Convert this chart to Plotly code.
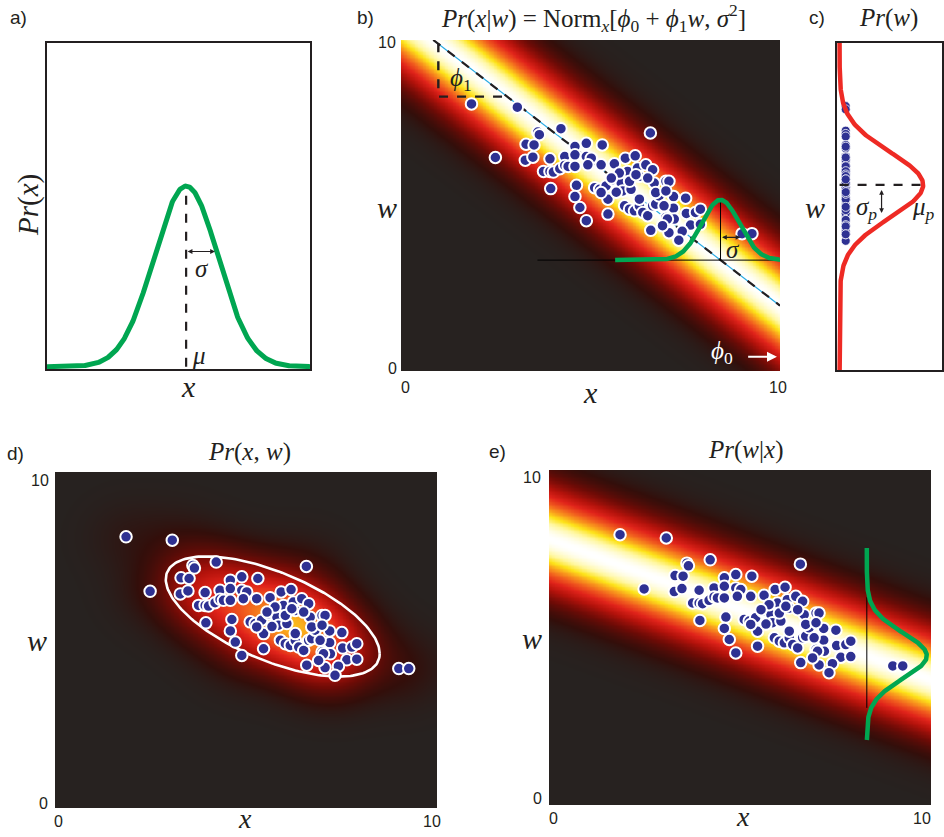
import numpy as np
import plotly.graph_objects as go

W, H = 944, 837

# ---------------------------------------------------------------- data
# observed training pairs (x, w)
data_x = [1.86, 3.07, 2.49, 4.22, 6.58,
          3.61, 3.65, 3.30, 3.51, 3.28, 3.48, 3.93,
          4.32, 4.59, 4.89, 5.31, 4.59,
          3.76, 3.93, 4.02, 4.19, 4.32, 4.41, 4.59,
          3.95, 4.89, 5.02, 4.93, 5.28, 5.63, 5.92, 6.18,
          5.98, 6.24, 6.46, 6.64, 6.29, 6.68, 6.99,
          4.63, 4.59, 4.72, 4.89,
          5.11, 5.24, 5.41, 5.59, 5.81, 5.85, 5.46, 5.46,
          5.90, 6.03, 6.16, 6.29, 6.38, 6.51, 6.64, 6.72, 6.81, 6.72,
          6.59, 6.99, 6.29, 6.07, 6.03, 5.76, 6.20, 6.51,
          7.07, 7.19, 7.51, 7.19, 7.53, 7.77, 7.90, 7.21, 7.03,
          7.64, 7.90, 7.07, 7.42, 7.33, 6.90,
          5.55, 5.68, 5.28, 6.94, 6.99,
          9.00, 9.26]
data_w = [8.07, 7.97, 6.45, 7.32, 7.19,
          7.22, 7.14, 6.85, 6.83, 6.37, 6.46, 6.41,
          6.48, 6.78, 6.88, 6.83, 6.53,
          6.03, 6.03, 6.01, 6.11, 6.21, 6.18, 6.18,
          5.51, 6.48, 6.43, 6.23, 6.23, 6.26, 6.43, 6.50,
          6.03, 6.13, 6.23, 6.08, 5.88, 5.68, 5.73,
          5.61, 5.27, 4.94, 4.54,
          5.54, 5.49, 5.59, 5.78, 5.68, 5.44, 5.19, 4.74,
          4.99, 4.89, 4.84, 4.99, 4.79, 4.69, 4.99, 5.04, 5.29, 5.39,
          4.25, 4.64, 5.19, 5.49, 5.73, 5.98, 5.93, 5.83,
          5.73, 5.27, 5.22, 4.92, 4.76, 4.79, 4.89, 4.59, 4.59,
          4.41, 4.43, 4.18, 4.22, 3.95, 4.39,
          5.83, 5.40, 5.39, 4.99, 5.44,
          4.15, 4.15]

# a) univariate normal Pr(x)
mu_a, sigma_a, peak_a = 5.29, 1.22, 0.558
# b) Pr(x|w) = Norm_x[phi0 + phi1 w, sigma^2]
phi0, phi1 = 12.25, -1.14
band_b = 1.3            # spread of the colour band
w_slice, sigma_b, amp_b = 3.35, 0.5, 1.82
# c) prior Pr(w)
mu_p, sigma_p, amp_c = 5.66, 1.0, 0.816
# d) joint Pr(x, w): kernel width and fitted contour
kde_bw = 0.72
ell_center = [5.7, 5.7]
ell_cov = [[7.84, -3.1], [-3.1, 3.2]]
# e) posterior Pr(w|x)
e_intercept, e_slope = 7.95, -0.42
band_e = 1.0
x_slice, sigma_e, amp_e = 8.32, 0.68, 1.57
x_slice_span = [1.94, 7.67]

tick_text = ["0", "10"]

# ---------------------------------------------------------------- styles
INK = "#231f20"
GREEN = "#00a651"
RED = "#ee2a24"
BLUE = "#2e3192"
SERIF = "Liberation Serif"
SANS = "Liberation Sans"

hot = [[0.0, "#272220"], [0.06, "#330e0a"], [0.18, "#6e0b06"], [0.32, "#b3120b"],
       [0.45, "#e0231a"], [0.58, "#f05a1e"], [0.70, "#f99d1c"], [0.80, "#fde31a"],
       [0.90, "#fff7a0"], [1.0, "#ffffff"]]


def dom_x(a, b):
    return [a / W, b / W]


def dom_y(top, bot):
    return [1 - bot / H, 1 - top / H]


def px(xp):
    return xp / W


def py(yp):
    return 1 - yp / H


fig = go.Figure()

grid = np.linspace(0, 10, 241)
GX, GW = np.meshgrid(grid, grid)

dot_style = dict(mode="markers", hoverinfo="skip",
                 marker=dict(size=11.5, color=BLUE, line=dict(color="white", width=2)))

# ---------------------------------------------------------------- panel a
xa = np.linspace(0, 10, 400)
fig.add_trace(go.Scatter(x=[mu_a, mu_a], y=[0, peak_a], mode="lines",
                         line=dict(color=INK, width=2.2, dash="dash"), xaxis="x", yaxis="y"))
fig.add_trace(go.Scatter(x=xa, y=peak_a * np.exp(-(xa - mu_a) ** 2 / (2 * sigma_a ** 2)),
                         mode="lines", line=dict(color=GREEN, width=5), xaxis="x", yaxis="y"))

# ---------------------------------------------------------------- panel b
zb = np.exp(-(GX - (phi0 + phi1 * GW)) ** 2 / (2 * band_b ** 2))
fig.add_trace(go.Heatmap(x=grid, y=grid, z=zb, colorscale=hot, showscale=False,
                         zmin=0, zmax=1, zsmooth="best", hoverinfo="skip", xaxis="x2", yaxis="y2"))
wl = np.array([10.0, (phi0 - 10.0) / -phi1])
fig.add_trace(go.Scatter(x=phi0 + phi1 * wl, y=wl, mode="lines",
                         line=dict(color="#29abe2", width=1.2), xaxis="x2", yaxis="y2"))
fig.add_trace(go.Scatter(x=phi0 + phi1 * wl, y=wl, mode="lines",
                         line=dict(color=INK, width=2.2, dash="dash"), xaxis="x2", yaxis="y2"))
fig.add_trace(go.Scatter(x=[0.985, 0.985, 2.70], y=[9.9, 8.29, 8.29], mode="lines",
                         line=dict(color=INK, width=2.4, dash="dash"), xaxis="x2", yaxis="y2"))
fig.add_trace(go.Scatter(x=data_x, y=data_w, xaxis="x2", yaxis="y2", **dot_style))
xc_b = phi0 + phi1 * w_slice
fig.add_trace(go.Scatter(x=[3.6, 10, None, xc_b, xc_b], y=[w_slice, w_slice, None, w_slice, w_slice + amp_b],
                         mode="lines", line=dict(color="black", width=1), xaxis="x2", yaxis="y2"))
xg = np.linspace(5.65, 10, 300)
fig.add_trace(go.Scatter(x=xg, y=w_slice + amp_b * np.exp(-(xg - xc_b) ** 2 / (2 * sigma_b ** 2)),
                         mode="lines", line=dict(color=GREEN, width=4.5), xaxis="x2", yaxis="y2"))

# ---------------------------------------------------------------- panel c
fig.add_trace(go.Scatter(x=[0.06] * len(data_w), y=data_w, mode="markers", hoverinfo="skip",
                         marker=dict(size=9, color=BLUE, line=dict(color="white", width=0.8)),
                         xaxis="x3", yaxis="y3"))
wc = np.linspace(-0.2, 10, 400)
fig.add_trace(go.Scatter(x=[0, amp_c], y=[mu_p, mu_p], mode="lines",
                         line=dict(color=INK, width=2.2, dash="dash"), xaxis="x3", yaxis="y3"))
fig.add_trace(go.Scatter(x=amp_c * np.exp(-(wc - mu_p) ** 2 / (2 * sigma_p ** 2)), y=wc,
                         mode="lines", line=dict(color=RED, width=4.5), xaxis="x3", yaxis="y3"))

# ---------------------------------------------------------------- panel d
px_arr, pw_arr = np.array(data_x), np.array(data_w)
zd = np.zeros_like(GX)
for xi, wi in zip(px_arr, pw_arr):
    zd += np.exp(-((GX - xi) ** 2 + (GW - wi) ** 2) / (2 * kde_bw ** 2))
zd = zd / zd.max()
fig.add_trace(go.Heatmap(x=grid, y=grid, z=zd, colorscale=hot, showscale=False,
                         zmin=0, zmax=1.35, zsmooth="best", hoverinfo="skip", xaxis="x4", yaxis="y4"))
L = np.linalg.cholesky(np.array(ell_cov))
t = np.linspace(0, 2 * np.pi, 200)
ell = L @ np.vstack([np.cos(t), np.sin(t)])
fig.add_trace(go.Scatter(x=ell_center[0] + ell[0], y=ell_center[1] + ell[1], mode="lines",
                         line=dict(color="white", width=2.6), xaxis="x4", yaxis="y4"))
fig.add_trace(go.Scatter(x=data_x, y=data_w, xaxis="x4", yaxis="y4", **dot_style))

# ---------------------------------------------------------------- panel e
ze = np.exp(-(GW - (e_intercept + e_slope * GX)) ** 2 / (2 * band_e ** 2))
fig.add_trace(go.Heatmap(x=grid, y=grid, z=ze, colorscale=hot, showscale=False,
                         zmin=0, zmax=1, zsmooth="best", hoverinfo="skip", xaxis="x5", yaxis="y5"))
fig.add_trace(go.Scatter(x=[x_slice, x_slice], y=[2.9, 6.2], mode="lines",
                         line=dict(color="black", width=1), xaxis="x5", yaxis="y5"))
wc_e = e_intercept + e_slope * x_slice
wg = np.linspace(x_slice_span[0], x_slice_span[1], 300)
fig.add_trace(go.Scatter(x=x_slice + amp_e * np.exp(-(wg - wc_e) ** 2 / (2 * sigma_e ** 2)), y=wg,
                         mode="lines", line=dict(color=GREEN, width=4.5), xaxis="x5", yaxis="y5"))
fig.add_trace(go.Scatter(x=data_x, y=data_w, xaxis="x5", yaxis="y5", **dot_style))

# ---------------------------------------------------------------- axes
box = dict(showline=True, mirror=True, linecolor=INK, linewidth=1.6, layer="below traces")
bare = dict(showgrid=False, zeroline=False, showticklabels=False, ticks="", fixedrange=True)

fig.update_layout(
    width=W, height=H, margin=dict(l=0, r=0, t=0, b=0),
    paper_bgcolor="white", plot_bgcolor="white", showlegend=False,
    xaxis=dict(domain=dom_x(47, 310), range=[0, 10], anchor="y", **bare, **box),
    yaxis=dict(domain=dom_y(43, 369), range=[-0.007, 1], anchor="x", **bare, **box),
    xaxis2=dict(domain=dom_x(401, 780), range=[0, 10], anchor="y2", **bare),
    yaxis2=dict(domain=dom_y(40, 371), range=[0, 10], anchor="x2", **bare),
    xaxis3=dict(domain=dom_x(837, 942), range=[-0.025, 1], anchor="y3", **bare, **box),
    yaxis3=dict(domain=dom_y(43, 370), range=[0, 10], anchor="x3", **bare, **box),
    xaxis4=dict(domain=dom_x(55, 437), range=[0, 10], anchor="y4", **bare),
    yaxis4=dict(domain=dom_y(472, 808), range=[0, 10], anchor="x4", **bare),
    xaxis5=dict(domain=dom_x(549, 931), range=[0, 10], anchor="y5", **bare),
    yaxis5=dict(domain=dom_y(470, 805), range=[0, 10], anchor="x5", **bare),
)

# ---------------------------------------------------------------- text
ann = []


def text(x, y, s, size=26, family=SERIF, color=INK, angle=0, xanchor="center"):
    ann.append(dict(x=px(x), y=py(y), xref="paper", yref="paper", text=s, showarrow=False,
                    xanchor=xanchor, yanchor="middle", textangle=angle,
                    font=dict(family=family, size=size, color=color)))


def arrow(x0, y0, x1, y1, xr, yr, color=INK, both=True, width=1.2, size=1.0):
    ann.append(dict(x=x1, y=y1, ax=x0, ay=y0, xref=xr, yref=yr, axref=xr, ayref=yr, text="",
                    showarrow=True, arrowhead=2, arrowside="end+start" if both else "end",
                    arrowsize=size, arrowwidth=width, arrowcolor=color))


# panel letters
for lx, ly, s in [(18, 17, "a)"), (365, 17, "b)"), (817, 17, "c)"), (15, 453, "d)"), (497, 452, "e)")]:
    text(lx, ly, s, size=19, family=SANS)

# axis end labels (0 and 10) of the three density maps
tick_pos = [
    ((405, 387), (778, 387), (392, 368), (387, 43)),
    ((58, 821), (432, 821), (43, 803), (40, 480)),
    ((553, 818), (922, 818), (537, 798), (532, 477)),
]
for x0, x10, y0, y10 in tick_pos:
    text(*x0, tick_text[0], size=16, family=SANS)
    text(*x10, tick_text[1], size=16, family=SANS)
    text(*y0, tick_text[0], size=16, family=SANS)
    text(*y10, tick_text[1], size=16, family=SANS)

# titles
text(593, 18, "<i>Pr</i>(<i>x</i>|<i>w</i>) = Norm<sub><i>x</i></sub>[<i>ϕ</i><sub>0</sub> + "
              "<i>ϕ</i><sub>1</sub><i>w</i>, <i>σ</i><sup>2</sup>]", size=25)
text(888, 18, "<i>Pr</i>(<i>w</i>)", size=25)
text(249, 452, "<i>Pr</i>(<i>x</i>, <i>w</i>)", size=25)
text(745, 450, "<i>Pr</i>(<i>w</i>|<i>x</i>)", size=25)

# axis labels
text(28, 205, "<i>Pr</i>(<i>x</i>)", size=29, angle=-90)
text(188, 386, "<i>x</i>", size=30)
text(590, 392, "<i>x</i>", size=30)
text(387, 207, "<i>w</i>", size=30)
text(815, 207, "<i>w</i>", size=30)
text(37, 640, "<i>w</i>", size=30)
text(245, 818, "<i>x</i>", size=28)
text(532, 638, "<i>w</i>", size=30)
text(743, 816, "<i>x</i>", size=28)

# panel a annotations
arrow(mu_a, 0.356, mu_a + 0.9 * sigma_a, 0.356, "x", "y", size=0.8)
text(202, 268, "<i>σ</i>", size=25)
text(199, 355, "<i>μ</i>", size=25)

# panel b annotations
arrow(xc_b, 4.04, xc_b + sigma_b * 1.05, 4.04, "x2", "y2", size=0.8)
text(733, 249, "<i>σ</i>", size=25)
text(461, 80, "<i>ϕ</i><sub>1</sub>", size=25)
text(722, 353, "<i>ϕ</i><sub>0</sub>", size=25, color="white")
arrow(9.12, 0.43, 9.92, 0.43, "x2", "y2", color="white", both=False, width=2, size=1.0)

# panel c annotations
arrow(0.41, 5.55, 0.41, 4.8, "x3", "y3", size=0.8)
text(866, 208, "<i>σ</i><sub><i>p</i></sub>", size=25)
text(923, 208, "<i>μ</i><sub><i>p</i></sub>", size=25)

fig.update_layout(annotations=ann)

fig.write_html("out.html")
